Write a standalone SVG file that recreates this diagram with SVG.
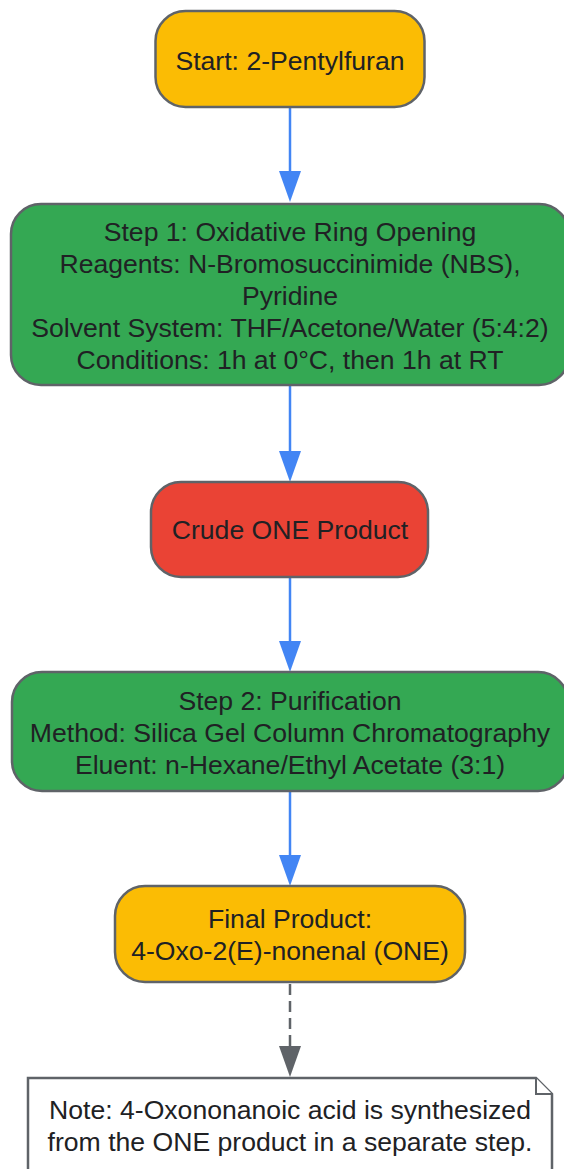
<svg xmlns="http://www.w3.org/2000/svg" width="564" height="1169" viewBox="0 0 564 1169">
  <defs>
    <style>
      .node { stroke: #5f6368; stroke-width: 2.5; }
      .yellow { fill: #fbbc04; }
      .green { fill: #34a853; }
      .red { fill: #ea4335; }
      .note { fill: #ffffff; stroke: #5f6368; stroke-width: 2.5; }
      .fold { fill: #ffffff; stroke: #5f6368; stroke-width: 2; stroke-linejoin: miter; }
      text { font-family: "Liberation Sans", Arial, sans-serif; font-size: 26.6px; fill: #202124; text-anchor: middle; }
      .flow { stroke: #4285f4; stroke-width: 2.5; fill: none; }
      .dash { stroke: #5f6368; stroke-width: 2.5; fill: none; stroke-dasharray: 11 6; }
    </style>
    <marker id="arrowBlue" markerUnits="userSpaceOnUse" viewBox="0 0 31 22" refX="0" refY="11" markerWidth="31" markerHeight="22" orient="auto">
      <path d="M0,0 L31,11 L0,22 z" fill="#4285f4"/>
    </marker>
    <marker id="arrowGrey" markerUnits="userSpaceOnUse" viewBox="0 0 31 22" refX="0" refY="11" markerWidth="31" markerHeight="22" orient="auto">
      <path d="M0,0 L31,11 L0,22 z" fill="#5f6368"/>
    </marker>
  </defs>
  <rect width="564" height="1169" fill="#ffffff"/>

  <g id="connectors">
    <line class="flow" x1="290" y1="108" x2="290" y2="171" marker-end="url(#arrowBlue)"/>
    <line class="flow" x1="290" y1="386" x2="290" y2="451" marker-end="url(#arrowBlue)"/>
    <line class="flow" x1="290" y1="578" x2="290" y2="641" marker-end="url(#arrowBlue)"/>
    <line class="flow" x1="290" y1="792" x2="290" y2="855" marker-end="url(#arrowBlue)"/>
    <line class="dash" x1="290" y1="984" x2="290" y2="1046" marker-end="url(#arrowGrey)"/>
  </g>

  <g id="start">
    <rect class="node yellow" x="155.5" y="11" width="269" height="96" rx="30" ry="30"/>
    <text x="290" y="70">Start: 2-Pentylfuran</text>
  </g>

  <g id="step1">
    <rect class="node green" x="11" y="204" width="558" height="181" rx="30" ry="30"/>
    <text x="290" y="240.5">Step 1: Oxidative Ring Opening</text>
    <text x="290" y="272.5">Reagents: N-Bromosuccinimide (NBS),</text>
    <text x="290" y="304.5">Pyridine</text>
    <text x="290" y="336.5">Solvent System: THF/Acetone/Water (5:4:2)</text>
    <text x="290" y="368.5">Conditions: 1h at 0°C, then 1h at RT</text>
  </g>

  <g id="crude">
    <rect class="node red" x="151" y="482" width="277" height="95" rx="30" ry="30"/>
    <text x="290" y="539">Crude ONE Product</text>
  </g>

  <g id="step2">
    <rect class="node green" x="12" y="672" width="556" height="119" rx="30" ry="30"/>
    <text x="290" y="710">Step 2: Purification</text>
    <text x="290" y="742">Method: Silica Gel Column Chromatography</text>
    <text x="290" y="774">Eluent: n-Hexane/Ethyl Acetate (3:1)</text>
  </g>

  <g id="final">
    <rect class="node yellow" x="115" y="886" width="350" height="96" rx="30" ry="30"/>
    <text x="290" y="928">Final Product:</text>
    <text x="290" y="960">4-Oxo-2(E)-nonenal (ONE)</text>
  </g>

  <g id="note">
    <path class="note" d="M28,1078 L536,1078 L552,1094 L552,1190 L28,1190 z"/>
    <path class="fold" d="M536,1078 L536,1094 L552,1094"/>
    <text x="290" y="1118.5">Note: 4-Oxononanoic acid is synthesized</text>
    <text x="290" y="1150.5">from the ONE product in a separate step.</text>
  </g>
</svg>
